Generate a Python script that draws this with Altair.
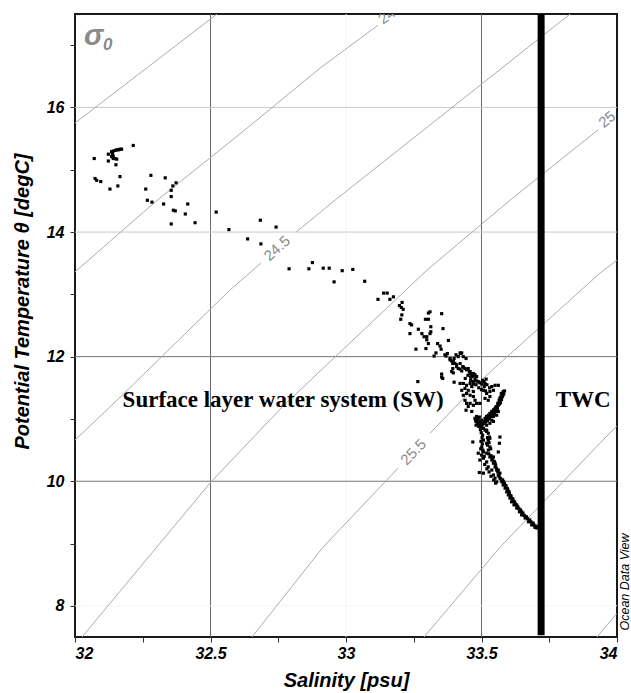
import altair as alt
import pandas as pd

# ---------------- data ----------------
SAL = [
    32.071, 32.123, 32.123, 32.135, 32.141, 32.148, 32.154, 32.160, 32.166, 32.172,
    32.138, 32.141, 32.148, 32.154, 32.141, 32.135, 32.215, 32.151, 32.074, 32.080,
    32.095, 32.166, 32.158, 32.129, 32.280, 32.333, 32.261, 32.373, 32.361, 32.355,
    32.355, 32.267, 32.284, 32.327, 32.416, 32.363, 32.370, 32.407, 32.355, 32.443,
    32.521,
    32.568, 32.684, 32.742, 32.637, 32.686, 32.790, 32.863, 32.876, 32.916, 32.938,
    32.956, 32.986, 33.025, 33.069, 33.139, 33.152, 33.118, 33.162, 33.175, 33.197,
    33.207, 33.204, 33.211, 33.206, 33.202, 33.236, 33.242, 33.236, 33.267, 33.258,
    33.280, 33.288, 33.298, 33.304, 33.310, 33.293, 33.304, 33.313, 33.313, 33.310,
    33.298, 33.304, 33.295, 33.353, 33.358, 33.378, 33.338, 33.347, 33.351, 33.332,
    33.325, 33.374, 33.369, 33.421, 33.427, 33.384, 33.396, 33.402, 33.408, 33.394,
    33.443, 33.414, 33.421, 33.427, 33.390, 33.433, 33.445, 33.458, 33.470, 33.482,
    33.476, 33.464, 33.353, 33.357, 33.265,
    33.365, 33.384, 33.390, 33.396, 33.408, 33.394, 33.399, 33.406, 33.414, 33.423,
    33.433, 33.421, 33.431, 33.439, 33.455, 33.458, 33.464, 33.470, 33.451, 33.460,
    33.476, 33.482, 33.488, 33.494, 33.501, 33.504, 33.509, 33.513, 33.517, 33.353,
    33.396, 33.399, 33.421, 33.433, 33.445, 33.458, 33.470, 33.464, 33.439, 33.427,
    33.451, 33.470, 33.458, 33.445, 33.433, 33.470, 33.476, 33.439, 33.445, 33.458,
    33.470, 33.482, 33.451, 33.443, 33.464, 33.494, 33.507, 33.519, 33.531, 33.513,
    33.525, 33.538, 33.550, 33.562, 33.544, 33.531,
    33.580, 33.575, 33.568, 33.566, 33.562, 33.556, 33.550, 33.544, 33.538, 33.531,
    33.525, 33.519, 33.513, 33.501, 33.492, 33.482, 33.476, 33.480, 33.488, 33.494,
    33.501, 33.507, 33.513, 33.519, 33.525, 33.529, 33.531, 33.562, 33.556, 33.544,
    33.538, 33.568,
    33.480, 33.501, 33.519, 33.531, 33.544, 33.519, 33.525, 33.519, 33.531, 33.525,
    33.519, 33.531, 33.538, 33.544, 33.550, 33.556, 33.562, 33.568, 33.575, 33.580,
    33.587, 33.593, 33.599, 33.605, 33.611, 33.620, 33.630, 33.640, 33.648, 33.661,
    33.673, 33.685, 33.697, 33.704,
    33.501, 33.504, 33.507, 33.501, 33.507, 33.494, 33.507, 33.519, 33.525, 33.538,
    33.544, 33.550, 33.556,
    33.468, 33.492, 33.507, 33.488, 33.566, 33.562, 33.544, 33.550, 33.562, 33.568,
    33.575,
    33.578, 33.585, 33.590, 33.597, 33.603, 33.609, 33.616, 33.624, 33.634, 33.644,
    33.653, 33.666, 33.678, 33.690, 33.700, 33.710,
    33.522, 33.528, 33.522, 33.534, 33.527, 33.535, 33.540, 33.547, 33.552, 33.555,
    33.560, 33.565, 33.571,
    33.573, 33.570, 33.565, 33.560, 33.553, 33.546, 33.540, 33.533, 33.527, 33.520,
    33.512, 33.505,
    33.478, 33.484, 33.490, 33.496, 33.499, 33.502, 33.498, 33.503, 33.497, 33.505,
    33.500, 33.510, 33.512, 33.520, 33.528, 33.535, 33.545, 33.552,
    33.585, 33.582, 33.578, 33.574, 33.570, 33.566, 33.559, 33.553, 33.548, 33.542,
    33.536, 33.529, 33.522, 33.515, 33.508, 33.496, 33.488,
    33.480, 33.490, 33.500, 33.510, 33.520, 33.530, 33.515, 33.460, 33.470, 33.440,
    33.450,
    33.582, 33.590, 33.596, 33.602, 33.608, 33.615, 33.622, 33.630, 33.638, 33.648,
    33.658, 33.670, 33.682, 33.693,
]
TEMP = [
    15.18, 15.25, 15.14, 15.29, 15.30, 15.31, 15.32, 15.32, 15.33, 15.33,
    15.26, 15.22, 15.18, 15.17, 15.18, 15.21, 15.39, 15.08, 14.86, 14.83,
    14.81, 14.89, 14.74, 14.69, 14.91, 14.87, 14.69, 14.79, 14.74, 14.67,
    14.57, 14.51, 14.48, 14.45, 14.45, 14.35, 14.34, 14.29, 14.13, 14.15,
    14.32,
    14.04, 14.19, 14.08, 13.89, 13.81, 13.41, 13.41, 13.51, 13.42, 13.42,
    13.20, 13.38, 13.40, 13.21, 13.02, 13.02, 12.92, 12.92, 12.96, 12.82,
    12.87, 12.79, 12.76, 12.67, 12.60, 12.53, 12.51, 12.37, 12.44, 12.12,
    12.37, 12.32, 12.32, 12.70, 12.72, 12.60, 12.60, 12.48, 12.40, 12.37,
    12.27, 12.21, 12.13, 12.69, 12.45, 12.26, 12.21, 12.17, 12.12, 12.06,
    12.01, 12.05, 12.01, 12.06, 12.06, 11.95, 11.92, 11.89, 11.87, 11.81,
    11.97, 11.81, 11.80, 11.77, 11.76, 11.83, 11.79, 11.76, 11.73, 11.68,
    11.71, 11.68, 11.72, 11.65, 11.60,
    12.03, 11.97, 11.93, 11.90, 11.84, 11.89, 11.97, 12.03, 12.00, 12.05,
    12.00, 11.89, 11.84, 11.81, 11.76, 11.73, 11.71, 11.69, 11.81, 11.67,
    11.64, 11.61, 11.60, 11.58, 11.56, 11.62, 11.60, 11.57, 11.64, 11.67,
    11.74, 11.59, 11.57, 11.57, 11.54, 11.57, 11.56, 11.52, 11.49, 11.46,
    11.46, 11.44, 11.38, 11.41, 11.38, 11.36, 11.30, 11.30, 11.25, 11.25,
    11.22, 11.25, 11.20, 11.14, 11.12, 11.25, 11.46, 11.41, 11.44, 11.33,
    11.30, 11.52, 11.54, 11.54, 11.46, 11.36,
    11.44, 11.38, 11.33, 11.28, 11.22, 11.20, 11.17, 11.14, 11.12, 11.09,
    11.06, 11.04, 11.01, 10.98, 11.03, 11.04, 11.01, 10.96, 10.93, 10.90,
    10.88, 10.85, 10.82, 10.80, 10.77, 10.71, 10.69, 11.12, 11.06, 11.04,
    10.98, 10.71,
    10.90, 10.92, 10.90, 10.93, 10.96, 10.82, 10.66, 10.61, 10.55, 10.50,
    10.45, 10.39, 10.34, 10.29, 10.23, 10.18, 10.10, 10.05, 9.99, 9.94,
    9.89, 9.83, 9.78, 9.73, 9.67, 9.62, 9.57, 9.51, 9.46, 9.41,
    9.35, 9.30, 9.26, 9.25,
    10.85, 10.74, 10.66, 10.55, 10.47, 10.34, 10.37, 10.31, 10.23, 10.18,
    10.10, 10.05, 9.99,
    10.63, 10.14, 10.13, 10.45, 10.61, 10.47, 10.39, 10.29, 10.18, 10.13,
    10.02,
    10.02, 9.96, 9.91, 9.86, 9.80, 9.75, 9.70, 9.64, 9.59, 9.54,
    9.49, 9.43, 9.38, 9.33, 9.28, 9.27,
    10.70, 10.62, 10.58, 10.52, 10.44, 10.41, 10.36, 10.32, 10.26, 10.21,
    10.15, 10.08, 10.04,
    11.41, 11.35, 11.30, 11.25, 11.19, 11.15, 11.10, 11.07, 11.02, 10.99,
    10.96, 10.92,
    10.98, 10.95, 10.88, 10.83, 10.78, 10.70, 10.64, 10.60, 10.52, 10.50,
    10.42, 10.40, 10.27, 10.20, 10.15, 10.08, 10.02, 9.97,
    11.45, 11.40, 11.36, 11.31, 11.26, 11.24, 11.17, 11.12, 11.09, 11.07,
    11.04, 11.00, 10.97, 10.95, 10.93, 10.95, 10.99,
    11.55, 11.50, 11.47, 11.52, 11.55, 11.50, 11.45, 11.62, 11.60, 11.65,
    11.70,
    9.99, 9.93, 9.88, 9.83, 9.77, 9.72, 9.67, 9.62, 9.56, 9.51,
    9.45, 9.40, 9.35, 9.30,
]

# isopycnal (sigma-0) lines; each segment is a run of points
CONTOUR_SEG = (["23.5"] * 2 + ["24a"] * 5 + ["24.5a"] * 4 + ["24.5b"] * 3
               + ["25a"] * 6 + ["25.5a"] * 3 + ["25.5b"] * 4 + ["26"] * 4 + ["26.5"] * 2)
CONTOUR_S = [32.000, 32.524,
             32.000, 32.303, 32.627, 32.904, 33.118,
             32.000, 32.155, 32.572, 32.686,
             32.816, 32.959, 33.827,
             32.026, 32.498, 32.764, 33.299, 33.605, 33.930,
             32.653, 32.915, 33.192,
             33.310, 33.498, 33.937, 34.000,
             33.288, 33.568, 33.937, 34.000,
             33.926, 34.000]
CONTOUR_T = [15.75, 17.50,
             13.36, 14.51, 15.64, 16.63, 17.32,
             10.66, 11.30, 13.07, 13.50,
             14.00, 14.51, 17.50,
             7.50, 9.97, 11.19, 13.39, 14.51, 15.64,
             7.50, 8.94, 10.21,
             10.77, 11.62, 13.34, 13.55,
             7.50, 8.94, 10.61, 10.89,
             7.50, 7.88]

LABEL_TXT = ["24", "24.5", "25", "25.5"]
LABEL_S = [33.151, 32.745, 33.963, 33.248]
LABEL_T = [17.47, 13.74, 15.81, 10.47]
LABEL_ANG = [324, 318, 321, 314]

VGRID_S = [32.5, 33.0, 33.5]
VGRID_C = ["#6a6a6a", "#f2f2f2", "#6a6a6a"]
HGRID_T = [8, 10, 12, 14, 16]
HGRID_C = ["#f4f4f4", "#747474", "#747474", "#c9c9c9", "#c9c9c9"]

BOUNDARY_S = [33.72]
BOUNDARY_T = [7.53]
BOUNDARY_T2 = [17.5]

REGION_TXT = ["Surface layer water system (SW)", "TWC"]
REGION_S = [32.768, 33.875]
REGION_T = [11.30, 11.30]

X_TICKS = [32, 32.25, 32.5, 32.75, 33, 33.25, 33.5, 33.75, 34]
Y_TICKS = [8, 9, 10, 11, 12, 13, 14, 15, 16, 17]

# ---------------- chart ----------------
FONT = "Liberation Sans"
xs = alt.Scale(domain=[32, 34], nice=False, zero=False)
ys = alt.Scale(domain=[7.5, 17.5], nice=False, zero=False)

x_axis = alt.Axis(values=X_TICKS, title="Salinity [psu]",
                  labelExpr="round(datum.value*4)%2==0 ? toString(datum.value) : ''",
                  titleX=271, titleY=49, titleBaseline="alphabetic",
                  labelPadding=3)
y_axis = alt.Axis(values=Y_TICKS, title="Potential Temperature \u03b8 [degC]",
                  labelExpr="datum.value%2==0 ? toString(datum.value) : ''",
                  titleX=-53, titleY=287, titleAngle=270, titleAlign="center",
                  titleBaseline="middle", labelPadding=6)

X = alt.X("S:Q", scale=xs, axis=x_axis)
Y = alt.Y("T:Q", scale=ys, axis=y_axis)

pts = pd.DataFrame({"S": SAL, "T": TEMP})
contours = pd.DataFrame({"seg": CONTOUR_SEG, "S": CONTOUR_S, "T": CONTOUR_T,
                         "ord": list(range(len(CONTOUR_S)))})
labels = pd.DataFrame({"txt": LABEL_TXT, "S": LABEL_S, "T": LABEL_T, "ang": LABEL_ANG})
vgrid = pd.DataFrame({"S": VGRID_S, "c": VGRID_C})
hgrid = pd.DataFrame({"T": HGRID_T, "c": HGRID_C})
boundary = pd.DataFrame({"S": BOUNDARY_S, "T": BOUNDARY_T, "T2": BOUNDARY_T2})
regions = pd.DataFrame({"txt": REGION_TXT, "S": REGION_S, "T": REGION_T})

vgrid_layer = alt.Chart(vgrid).mark_rule(strokeWidth=1).encode(
    x=X, color=alt.Color("c:N", scale=None))
hgrid_layer = alt.Chart(hgrid).mark_rule(strokeWidth=1).encode(
    y=Y, color=alt.Color("c:N", scale=None))

contour_layer = alt.Chart(contours).mark_line(
    color="#ababab", strokeWidth=1, clip=True).encode(
    x=X, y=Y, detail="seg:N", order="ord:Q")

label_layer = alt.Chart(labels).mark_text(
    font=FONT, fontSize=15, color="#8a8a8a", clip=True,
    align="center", baseline="middle").encode(
    x=X, y=Y, text="txt:N", angle=alt.Angle("ang:Q", scale=None))

boundary_layer = alt.Chart(boundary).mark_rule(
    color="black", strokeWidth=7, strokeCap="butt").encode(
    x=X, y=Y, y2=alt.Y2("T2:Q"))

point_layer = alt.Chart(pts).mark_square(size=10, color="black", opacity=1).encode(
    x=X, y=Y)

region_layer = alt.Chart(regions).mark_text(
    font="Liberation Serif", fontSize=23, fontWeight="bold", color="black",
    align="center", baseline="middle").encode(x=X, y=Y, text="txt:N")

sigma_layer = alt.Chart(pd.DataFrame({"t": ["\u03c3"]})).mark_text(
    font=FONT, fontSize=29, fontWeight="bold", fontStyle="italic", color="#8a8a8a",
    align="left", baseline="alphabetic").encode(
    x=alt.value(9), y=alt.value(31), text="t:N")
sub_layer = alt.Chart(pd.DataFrame({"t": ["0"]})).mark_text(
    font=FONT, fontSize=17, fontWeight="bold", fontStyle="italic", color="#8a8a8a",
    align="left", baseline="alphabetic").encode(
    x=alt.value(28), y=alt.value(36), text="t:N")

odv_layer = alt.Chart(pd.DataFrame({"t": ["Ocean Data View"]})).mark_text(
    font=FONT, fontSize=12.5, fontStyle="italic", color="black", angle=270,
    align="center", baseline="middle").encode(
    x=alt.value(550), y=alt.value(568), text="t:N")

chart = alt.layer(
    vgrid_layer, hgrid_layer, contour_layer, label_layer, boundary_layer,
    point_layer, region_layer, sigma_layer, sub_layer, odv_layer
).properties(
    width=542, height=623,
    autosize=alt.AutoSizeParams(type="none"),
    padding={"left": 75, "top": 14, "right": 14, "bottom": 56},
).configure_view(
    stroke="#1a1a1a", strokeWidth=2
).configure_axis(
    grid=False, domain=False,
    labelFont=FONT, labelFontSize=16, labelFontWeight="bold", labelFontStyle="italic",
    labelColor="black",
    tickColor="#333333", tickSize=5, tickWidth=1,
    titleFont=FONT, titleFontSize=20, titleFontWeight="bold", titleFontStyle="italic",
    titleColor="black",
)

chart.save("out.html", embed_options={"renderer": "svg", "actions": False})
